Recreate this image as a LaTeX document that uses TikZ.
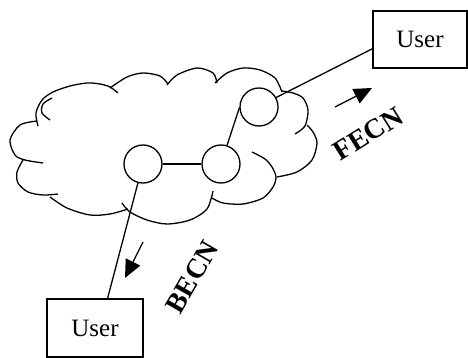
\documentclass[tikz,border=0pt]{standalone}
\usepackage{fontspec}
\setmainfont{Liberation Serif}
\usetikzlibrary{arrows.meta}
\begin{document}
\begin{tikzpicture}[x=1pt,y=-1pt,line width=1.3pt,
  cloudarc/.style={line width=1.3pt},
  router/.style={circle,draw,fill=white,minimum size=38pt,inner sep=0pt},
  userbox/.style={draw,rectangle,fill=white,minimum width=94pt,minimum height=57pt,inner sep=0pt,font=\fontsize{25}{30}\selectfont},
  lbl/.style={font=\fontsize{28}{32}\selectfont\bfseries,inner sep=0pt},
  flow/.style={-{Triangle[length=18pt,width=16pt]}}]
\useasboundingbox (0,0) rectangle (468,358);

% cloud outline
\draw[cloudarc] plot[smooth] coordinates {(38,126) (36,113) (42,100) (53,92) (70,86) (87,83) (100,84) (110,87) (118,93)};
\draw[cloudarc] plot[smooth] coordinates {(52,98) (43,104) (42,113) (50,120)};
\draw[cloudarc] plot[smooth] coordinates {(37,121) (20,125) (10,140) (15,155) (25,160) (43,163)};
\draw[cloudarc] plot[smooth] coordinates {(23,160) (17,172) (18,183) (28,192) (43,195) (58,194)};
\draw[cloudarc] plot[smooth] coordinates {(50,197) (67,208) (90,215) (110,214) (128,209)};
\draw[cloudarc] plot[smooth] coordinates {(122,203) (130,212) (147,220) (167,224) (190,220) (207,209) (213,191)};
\draw[cloudarc] plot[smooth] coordinates {(252,152) (265,159) (272,167) (276,177) (273,187) (263,198) (243,204) (223,203) (212,198)};
\draw[cloudarc] plot[smooth] coordinates {(277,177) (297,172) (312,160) (317,143) (313,132) (307,125)};
\draw[cloudarc] plot[smooth] coordinates {(282,91) (293,93) (303,98) (308,110) (305,126) (295,134)};
\draw[cloudarc] plot[smooth] coordinates {(215,83) (227,73) (243,68) (260,70) (275,78) (282,92)};
\draw[cloudarc] plot[smooth] coordinates {(167,85) (177,75) (197,68) (213,73) (217,83)};
\draw[cloudarc] plot[smooth] coordinates {(110,88) (127,77) (143,73) (160,76) (168,84)};

% routers
\node[router] (A) at (143,164) {};
\node[router] (B) at (221,164) {};
\node[router] (C) at (259,107) {};

% users
\node[userbox] (utop) at (420,39.5) {User};
\node[userbox,minimum width=96pt,minimum height=58pt] (ubot) at (95,328) {User};

% links
\draw (A.east) -- (B.west);
\draw (B.72) -- (C.182);
\draw (C.29) -- (utop.191.4);
\draw (A.255) -- (ubot.67.5);

% notification arrows
\coordinate (f1) at (335,107);
\coordinate (f2) at (372,88);
\coordinate (b1) at (143,242);
\coordinate (b2) at (125,278);
\draw[flow] (f1) -- (f2);
\draw[flow] (b1) -- (b2);

\node[lbl,rotate=32] (fecn) at (368,134) {FECN};
\node[lbl,rotate=60] (becn) at (192,277) {BECN};
\end{tikzpicture}
\end{document}
